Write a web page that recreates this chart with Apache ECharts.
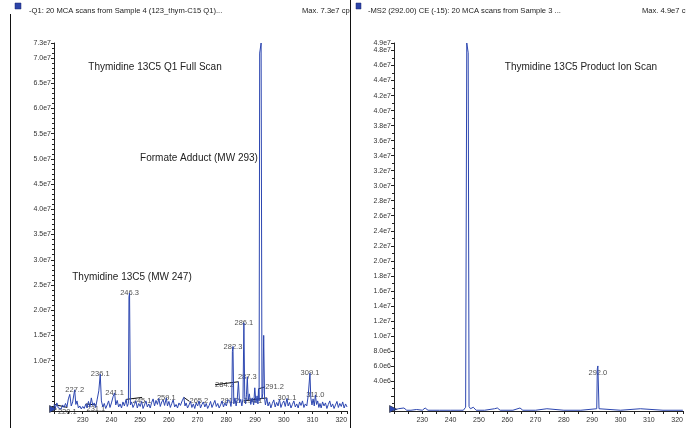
<!DOCTYPE html>
<html>
<head>
<meta charset="utf-8">
<script src="https://cdn.jsdelivr.net/npm/echarts@6/dist/echarts.min.js"></script>
<style>
  html, body { margin: 0; padding: 0; background: #fff; }
  #chart { width: 686px; height: 428px; }
</style>
</head>
<body>
<div id="chart"></div>
<script>
// Intensities are stored in millions of counts per second (1e6 cps).

// Q1 full scan, sample 4: [m/z, intensity]
const q1Scan = [
  [220.0, 0.4], [220.1, 1.3], [220.5, 0.6], [221.0, 1.6], [221.5, 0.6], [222.0, 0.9], [222.5, 0.4],
  [223.0, 1.2], [223.5, 0.7], [224.0, 1.5], [224.5, 0.8], [225.0, 2.4], [225.5, 3.3], [226.0, 1.0],
  [226.5, 1.8], [227.2, 4.2], [227.6, 1.3], [228.0, 2.0], [228.5, 0.6], [229.0, 1.0], [229.5, 0.4],
  [230.0, 0.9], [230.5, 0.5], [231.1, 1.4], [231.5, 0.6], [232.0, 1.9], [232.5, 0.8], [233.0, 2.6],
  [233.5, 1.1], [234.0, 1.6], [234.5, 0.7], [235.0, 2.2], [235.6, 4.0], [236.1, 7.3], [236.5, 2.0],
  [237.0, 0.8], [237.5, 1.5], [238.0, 0.5], [238.5, 1.2], [239.0, 2.0], [239.5, 0.7], [240.0, 1.6],
  [240.6, 2.9], [241.1, 3.6], [241.5, 1.2], [242.0, 2.1], [242.5, 0.8], [243.0, 1.4], [243.5, 0.6],
  [244.0, 1.8], [244.5, 1.0], [245.1, 2.3], [245.5, 0.9], [245.9, 1.5], [246.1, 22.6], [246.3, 23.4],
  [246.6, 1.2], [247.0, 1.8], [247.5, 0.7], [248.0, 1.3], [248.5, 2.0], [249.0, 0.6], [249.5, 1.5],
  [250.0, 0.9], [250.5, 1.9], [251.0, 0.5], [251.5, 1.2], [252.0, 2.0], [252.5, 0.8], [253.0, 1.4],
  [253.5, 0.6], [254.0, 1.7], [254.5, 2.4], [255.0, 1.0], [255.5, 2.1], [256.0, 1.3], [256.5, 2.5],
  [257.0, 0.9], [257.5, 1.8], [258.0, 2.2], [258.5, 1.1], [259.1, 2.6], [259.5, 1.0], [260.0, 1.9],
  [260.5, 0.7], [261.0, 1.5], [261.5, 2.2], [262.0, 0.8], [262.5, 1.3], [263.0, 0.6], [263.5, 1.6],
  [264.0, 1.1], [264.6, 2.0], [265.2, 2.7], [265.6, 1.0], [266.0, 1.6], [266.5, 0.6], [267.0, 1.2],
  [267.5, 1.9], [268.0, 0.7], [268.5, 1.4], [269.0, 0.5], [269.5, 1.6], [270.0, 1.0], [270.5, 2.0],
  [271.0, 0.6], [271.5, 1.3], [272.0, 1.8], [272.5, 0.8], [273.0, 1.5], [273.5, 0.5], [274.0, 1.1],
  [274.5, 1.9], [275.0, 0.7], [275.5, 1.4], [276.0, 2.1], [276.5, 0.9], [277.0, 1.5], [277.5, 0.6],
  [278.0, 1.2], [278.5, 2.0], [279.0, 0.8], [279.5, 1.6], [280.0, 1.0], [280.5, 2.2], [281.2, 2.0],
  [281.6, 0.9], [281.9, 2.2], [282.1, 11.8], [282.3, 12.8], [282.6, 1.4], [283.0, 2.6], [283.4, 1.0],
  [283.8, 2.4], [284.2, 5.8], [284.6, 1.6], [285.0, 2.3], [285.4, 1.0], [285.8, 2.5], [286.1, 17.5],
  [286.4, 2.8], [286.7, 1.4], [287.0, 3.2], [287.3, 6.8], [287.6, 2.2], [288.0, 3.4], [288.5, 1.3],
  [289.0, 2.6], [289.5, 1.2], [289.9, 4.6], [290.3, 1.6], [290.7, 3.0], [291.0, 1.4], [291.2, 4.4],
  [291.4, 2.0], [291.6, 71.0], [292.1, 73.0], [292.4, 2.4], [292.7, 3.5], [293.0, 15.0], [293.3, 2.6],
  [293.6, 1.2], [294.1, 2.6], [294.5, 1.0], [295.0, 1.8], [295.5, 0.6], [296.0, 1.5], [296.5, 2.2],
  [297.0, 0.8], [297.5, 1.7], [298.0, 1.0], [298.5, 2.3], [299.0, 0.7], [299.5, 1.5], [300.0, 2.0],
  [300.5, 0.9], [301.1, 2.5], [301.5, 1.0], [302.0, 1.7], [302.5, 0.6], [303.0, 1.3], [303.5, 2.0],
  [304.0, 0.8], [304.5, 1.4], [305.0, 0.6], [305.5, 1.8], [306.0, 1.1], [306.5, 2.0], [307.0, 0.7],
  [307.5, 1.4], [308.0, 1.0], [308.5, 3.1], [309.1, 7.5], [309.4, 2.6], [309.8, 1.2], [310.2, 2.4],
  [310.6, 1.0], [311.0, 3.2], [311.4, 1.3], [311.8, 2.0], [312.2, 0.7], [312.6, 1.5], [313.0, 0.6],
  [313.5, 1.8], [314.0, 1.0], [314.5, 1.6], [315.0, 0.5], [315.5, 1.3], [316.0, 2.0], [316.5, 0.8],
  [317.0, 1.4], [317.5, 0.5], [318.0, 1.2], [318.5, 1.9], [319.0, 0.7], [319.5, 1.5], [320.0, 0.9],
  [320.5, 1.8], [321.0, 0.6], [321.5, 1.4], [322.0, 0.8]
];

// Centroid labels on the Q1 trace
const q1PeakLabels = [220.1, 227.2, 231.1, 236.1, 241.1, 245.1, 246.3, 259.1, 265.2, 281.2,
  282.3, 284.2, 286.1, 287.3, 291.2, 294.1, 301.1, 309.1, 311.0];

// MS2 product ion scan of m/z 292.00, CE -15, sample 3: [m/z, intensity]
const ms2Scan = [
  [220.0, 0.1], [221.5, 0.3], [222.0, 0.1], [223.5, 0.4], [224.5, 0.1], [226.0, 0.1], [228.0, 0.2],
  [230.0, 0.1], [231.0, 0.4], [232.0, 0.1], [236.0, 0.1], [240.0, 0.1], [244.5, 0.1], [245.3, 0.5],
  [245.7, 49.0], [246.2, 47.7], [246.5, 0.6], [247.0, 0.3], [248.0, 0.5], [249.0, 0.1], [252.0, 0.1],
  [255.5, 0.3], [256.5, 0.4], [257.5, 0.1], [262.0, 0.1], [264.5, 0.4], [265.5, 0.1], [270.0, 0.1],
  [274.0, 0.3], [274.5, 0.1], [280.0, 0.1], [286.0, 0.1], [291.6, 0.3], [291.8, 5.6], [292.0, 6.0],
  [292.4, 0.3], [293.0, 0.1], [300.0, 0.1], [307.0, 0.3], [307.5, 0.1], [315.0, 0.1], [322.0, 0.1]
];
const ms2PeakLabels = [292.0];

// Axis ranges (m/z and 1e6 cps)
const mzMin = 220, mzMax = 322;
const q1Max = 73, ms2Max = 49;

// Label nudges [dx, dy] for crowded labels that sit away from their peak
const q1LabelMoves = {
  '220.1': [13, 12], '231.1': [10, 10], '245.1': [16, 7], '265.2': [15, 9],
  '284.2': [-14, 8], '291.2': [16, 3], '294.1': [-14, 8]
};

const BLUE = '#2c46b0';
const FONT = 'Liberation Sans, Arial, sans-serif';

function sci(v) {
  // 4 -> "4.0e6", 10 -> "1.0e7", 73 -> "7.3e7"
  if (v < 10) return v.toFixed(1) + 'e6';
  return (v / 10).toFixed(1) + 'e7';
}

function labelPoints(scan, labels) {
  return scan.filter(p => labels.includes(p[0]));
}

const chart = echarts.init(document.getElementById('chart'), null, { renderer: 'canvas' });

const xAxisBase = {
  type: 'value', min: mzMin, max: mzMax, interval: 5,
  axisLine: { lineStyle: { color: '#222', width: 1 } },
  axisTick: { length: 3, lineStyle: { color: '#222' } },
  axisLabel: {
    fontSize: 7, color: '#333', fontFamily: FONT, margin: 6,
    formatter: v => (v % 10 === 0 && v > mzMin) ? String(v) : ''
  },
  splitLine: { show: false }
};

const yAxisBase = {
  type: 'value', min: 0,
  axisLine: { show: true, lineStyle: { color: '#222', width: 1 } },
  axisTick: { show: true, length: 3, lineStyle: { color: '#222' } },
  minorTick: { show: true, length: 2, lineStyle: { color: '#222' } },
  splitLine: { show: false },
  axisLabel: { fontSize: 7, color: '#333', fontFamily: FONT, margin: 3 }
};

const q1LabelData = labelPoints(q1Scan, q1PeakLabels).map(p => {
  const mv = q1LabelMoves[p[0].toFixed(1)];
  return mv ? { value: p, moved: mv, labelLine: { show: true } } : { value: p };
});

chart.setOption({
  animation: false,
  textStyle: { fontFamily: FONT },
  grid: [
    { left: 54, top: 43, width: 293, height: 368 },
    { left: 394, top: 43, width: 293, height: 368 }
  ],
  xAxis: [
    Object.assign({}, xAxisBase, { gridIndex: 0 }),
    Object.assign({}, xAxisBase, { gridIndex: 1 })
  ],
  yAxis: [
    Object.assign({}, yAxisBase, {
      gridIndex: 0, max: q1Max, interval: 5,
      minorTick: Object.assign({}, yAxisBase.minorTick, { splitNumber: 5 }),
      axisLabel: Object.assign({}, yAxisBase.axisLabel, { formatter: v => v >= 10 ? sci(v) : '' })
    }),
    Object.assign({}, yAxisBase, {
      gridIndex: 1, max: ms2Max, interval: 2,
      minorTick: Object.assign({}, yAxisBase.minorTick, { splitNumber: 2 }),
      axisLabel: Object.assign({}, yAxisBase.axisLabel, { formatter: v => v >= 4 ? sci(v) : '' })
    })
  ],
  series: [
    {
      type: 'line', xAxisIndex: 0, yAxisIndex: 0, data: q1Scan,
      showSymbol: false, silent: true,
      lineStyle: { color: BLUE, width: 1 },
      markPoint: {
        silent: true, symbol: 'triangle', symbolRotate: -90, symbolSize: [7, 7],
        itemStyle: { color: BLUE, borderColor: '#111', borderWidth: 0.5 },
        label: { show: false },
        data: [{ coord: [mzMin, 0], symbolOffset: [-1, -2] }]
      }
    },
    {
      type: 'scatter', xAxisIndex: 0, yAxisIndex: 0, silent: true,
      data: q1LabelData, symbolSize: 0,
      label: {
        show: true, position: 'inside', offset: [0, 5],
        fontSize: 7.5, color: '#222', fontFamily: FONT,
        formatter: p => p.value[0].toFixed(1)
      },
      labelLine: { show: false, length2: 0, lineStyle: { color: '#111', width: 1 } },
      labelLayout: params => {
        const d = q1LabelData[params.dataIndex];
        return d && d.moved ? { dx: d.moved[0], dy: d.moved[1] - 5 } : {};
      }
    },
    {
      type: 'line', xAxisIndex: 1, yAxisIndex: 1, data: ms2Scan,
      showSymbol: false, silent: true,
      lineStyle: { color: BLUE, width: 1 },
      markPoint: {
        silent: true, symbol: 'triangle', symbolRotate: -90, symbolSize: [7, 7],
        itemStyle: { color: BLUE, borderColor: '#111', borderWidth: 0.5 },
        label: { show: false },
        data: [{ coord: [mzMin, 0], symbolOffset: [-1, -2] }]
      }
    },
    {
      type: 'scatter', xAxisIndex: 1, yAxisIndex: 1, silent: true,
      data: labelPoints(ms2Scan, ms2PeakLabels), symbolSize: 0,
      label: {
        show: true, position: 'inside', offset: [0, 7],
        fontSize: 7.5, color: '#222', fontFamily: FONT,
        formatter: p => p.value[0].toFixed(1)
      }
    }
  ],
  graphic: [
    // panel frames
    { type: 'line', shape: { x1: 10.5, y1: 14, x2: 10.5, y2: 428 }, style: { stroke: '#111', lineWidth: 1 } },
    // left header
    { type: 'rect', shape: { x: 15, y: 3, width: 6, height: 6 }, style: { fill: '#2d44a8', stroke: '#1a2670', lineWidth: 0.5 } },
    { type: 'text', x: 29, y: 11, style: { text: '-Q1: 20 MCA scans from Sample 4 (123_thym-C15 Q1)...', font: '7.6px ' + FONT, fill: '#222', textVerticalAlign: 'middle' } },
    { type: 'text', x: 302, y: 11, style: { text: 'Max. 7.3e7 cps', font: '7.6px ' + FONT, fill: '#222', textVerticalAlign: 'middle' } },
    { type: 'rect', shape: { x: 351, y: 4, width: 4, height: 12 }, style: { fill: '#fff' } },
    { type: 'line', shape: { x1: 350.5, y1: 0, x2: 350.5, y2: 428 }, style: { stroke: '#111', lineWidth: 1 } },
    // right header
    { type: 'rect', shape: { x: 356, y: 3, width: 5, height: 6 }, style: { fill: '#2d44a8', stroke: '#1a2670', lineWidth: 0.5 } },
    { type: 'text', x: 368, y: 11, style: { text: '-MS2 (292.00) CE (-15): 20 MCA scans from Sample 3 ...', font: '7.6px ' + FONT, fill: '#222', textVerticalAlign: 'middle' } },
    { type: 'text', x: 642, y: 11, style: { text: 'Max. 4.9e7 cps', font: '7.6px ' + FONT, fill: '#222', textVerticalAlign: 'middle' } },
    // annotations
    { type: 'text', x: 155, y: 67, style: { text: 'Thymidine 13C5 Q1 Full Scan', font: '10px ' + FONT, fill: '#222', textAlign: 'center', textVerticalAlign: 'middle' } },
    { type: 'text', x: 199, y: 158, style: { text: 'Formate Adduct (MW 293)', font: '10px ' + FONT, fill: '#222', textAlign: 'center', textVerticalAlign: 'middle' } },
    { type: 'text', x: 132, y: 277, style: { text: 'Thymidine 13C5 (MW 247)', font: '10px ' + FONT, fill: '#222', textAlign: 'center', textVerticalAlign: 'middle' } },
    { type: 'text', x: 581, y: 67, style: { text: 'Thymidine 13C5 Product Ion Scan', font: '10px ' + FONT, fill: '#222', textAlign: 'center', textVerticalAlign: 'middle' } }
  ]
});
</script>
</body>
</html>
